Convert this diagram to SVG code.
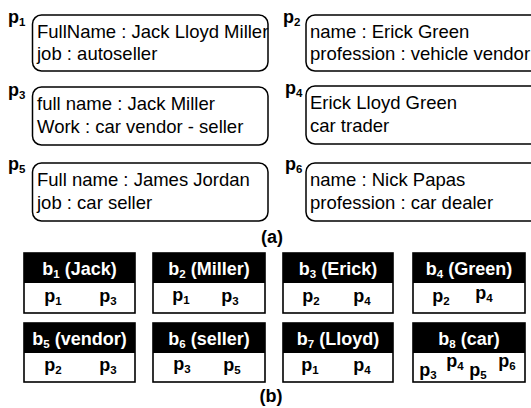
<svg xmlns="http://www.w3.org/2000/svg" width="531" height="408" viewBox="0 0 531 408">
<style>
text { font-family: "Liberation Sans", Arial, sans-serif; fill: #000; }
.rec { fill: #fff; stroke: #000; stroke-width: 1.5; }
.t { font-size: 18.5px; }
.lbl { font-size: 18px; font-weight: bold; }
.sub { font-size: 11.5px; }
.hdr { fill: #000; }
.cell { fill: #fff; stroke: #000; stroke-width: 1.6; }
.ht { fill: #fff; font-size: 18px; font-weight: bold; text-anchor: middle; }
.pc { font-size: 18px; font-weight: bold; text-anchor: middle; }
.cap { font-size: 18px; font-weight: bold; text-anchor: middle; }
</style>
<rect width="531" height="408" fill="#fff"/>
<g id="connectors"/>

<g id="p1">
<text class="lbl" x="8" y="23">p<tspan class="sub" dy="3">1</tspan></text>
<rect class="rec" x="32.5" y="15" width="235.5" height="56" rx="9"/>
<text class="t" x="37" y="38">FullName : Jack Lloyd Miller</text>
<text class="t" x="37" y="60">job : autoseller</text>
</g>
<g id="p2">
<text class="lbl" x="283" y="23">p<tspan class="sub" dy="3">2</tspan></text>
<rect class="rec" x="306" y="15" width="250" height="56" rx="9"/>
<text class="t" x="310" y="38">name : Erick Green</text>
<text class="t" x="310" y="60">profession : vehicle vendor</text>
</g>
<g id="p3">
<text class="lbl" x="8" y="96">p<tspan class="sub" dy="3">3</tspan></text>
<rect class="rec" x="32.5" y="87" width="235.5" height="58" rx="9"/>
<text class="t" x="37" y="110">full name : Jack Miller</text>
<text class="t" x="37" y="133">Work : car vendor - seller</text>
</g>
<g id="p4">
<text class="lbl" x="285" y="94">p<tspan class="sub" dy="3">4</tspan></text>
<rect class="rec" x="306" y="86" width="250" height="58" rx="9"/>
<text class="t" x="310" y="109">Erick Lloyd Green</text>
<text class="t" x="310" y="132">car trader</text>
</g>
<g id="p5">
<text class="lbl" x="8" y="170">p<tspan class="sub" dy="3">5</tspan></text>
<rect class="rec" x="32.5" y="163" width="235.5" height="58" rx="9"/>
<text class="t" x="37" y="186">Full name : James Jordan</text>
<text class="t" x="37" y="209">job : car seller</text>
</g>
<g id="p6">
<text class="lbl" x="285" y="170">p<tspan class="sub" dy="3">6</tspan></text>
<rect class="rec" x="306" y="163" width="250" height="58" rx="9"/>
<text class="t" x="310" y="186">name : Nick Papas</text>
<text class="t" x="310" y="209">profession : car dealer</text>
</g>
<g id="caption-a"><text class="cap" x="272" y="243">(a)</text></g>

<g id="b1">
<rect class="cell" x="24" y="253" width="111" height="60"/>
<rect class="hdr" x="24" y="253" width="111" height="30"/>
<text class="ht" x="79.5" y="275">b<tspan class="sub" dy="3">1</tspan><tspan dy="-3"> (Jack)</tspan></text>
<text class="pc" x="53" y="302">p<tspan class="sub" dy="3">1</tspan></text>
<text class="pc" x="108" y="302">p<tspan class="sub" dy="3">3</tspan></text>
</g>
<g id="b2">
<rect class="cell" x="153" y="253" width="112" height="60"/>
<rect class="hdr" x="153" y="253" width="112" height="30"/>
<text class="ht" x="209" y="275">b<tspan class="sub" dy="3">2</tspan><tspan dy="-3"> (Miller)</tspan></text>
<text class="pc" x="181" y="301">p<tspan class="sub" dy="3">1</tspan></text>
<text class="pc" x="230" y="302">p<tspan class="sub" dy="3">3</tspan></text>
</g>
<g id="b3">
<rect class="cell" x="283" y="253" width="110" height="60"/>
<rect class="hdr" x="283" y="253" width="110" height="30"/>
<text class="ht" x="338" y="275">b<tspan class="sub" dy="3">3</tspan><tspan dy="-3"> (Erick)</tspan></text>
<text class="pc" x="311" y="302">p<tspan class="sub" dy="3">2</tspan></text>
<text class="pc" x="362" y="302">p<tspan class="sub" dy="3">4</tspan></text>
</g>
<g id="b4">
<rect class="cell" x="413" y="253" width="112" height="60"/>
<rect class="hdr" x="413" y="253" width="112" height="30"/>
<text class="ht" x="469" y="275">b<tspan class="sub" dy="3">4</tspan><tspan dy="-3"> (Green)</tspan></text>
<text class="pc" x="441" y="302">p<tspan class="sub" dy="3">2</tspan></text>
<text class="pc" x="484" y="299">p<tspan class="sub" dy="3">4</tspan></text>
</g>
<g id="b5">
<rect class="cell" x="24" y="323" width="111" height="59"/>
<rect class="hdr" x="24" y="323" width="111" height="30"/>
<text class="ht" x="79.5" y="345">b<tspan class="sub" dy="3">5</tspan><tspan dy="-3"> (vendor)</tspan></text>
<text class="pc" x="53" y="371">p<tspan class="sub" dy="3">2</tspan></text>
<text class="pc" x="108" y="371">p<tspan class="sub" dy="3">3</tspan></text>
</g>
<g id="b6">
<rect class="cell" x="153" y="323" width="112" height="59"/>
<rect class="hdr" x="153" y="323" width="112" height="30"/>
<text class="ht" x="209" y="345">b<tspan class="sub" dy="3">6</tspan><tspan dy="-3"> (seller)</tspan></text>
<text class="pc" x="182" y="370">p<tspan class="sub" dy="3">3</tspan></text>
<text class="pc" x="232" y="371">p<tspan class="sub" dy="3">5</tspan></text>
</g>
<g id="b7">
<rect class="cell" x="283" y="323" width="110" height="59"/>
<rect class="hdr" x="283" y="323" width="110" height="30"/>
<text class="ht" x="338" y="345">b<tspan class="sub" dy="3">7</tspan><tspan dy="-3"> (Lloyd)</tspan></text>
<text class="pc" x="310" y="371">p<tspan class="sub" dy="3">1</tspan></text>
<text class="pc" x="362" y="371">p<tspan class="sub" dy="3">4</tspan></text>
</g>
<g id="b8">
<rect class="cell" x="413" y="323" width="112" height="59"/>
<rect class="hdr" x="413" y="323" width="112" height="30"/>
<text class="ht" x="469" y="345">b<tspan class="sub" dy="3">8</tspan><tspan dy="-3"> (car)</tspan></text>
<text class="pc" x="428" y="376">p<tspan class="sub" dy="3">3</tspan></text>
<text class="pc" x="455" y="367">p<tspan class="sub" dy="3">4</tspan></text>
<text class="pc" x="478" y="376">p<tspan class="sub" dy="3">5</tspan></text>
<text class="pc" x="507" y="367">p<tspan class="sub" dy="3">6</tspan></text>
</g>
<g id="caption-b"><text class="cap" x="271" y="402">(b)</text></g>
</svg>
